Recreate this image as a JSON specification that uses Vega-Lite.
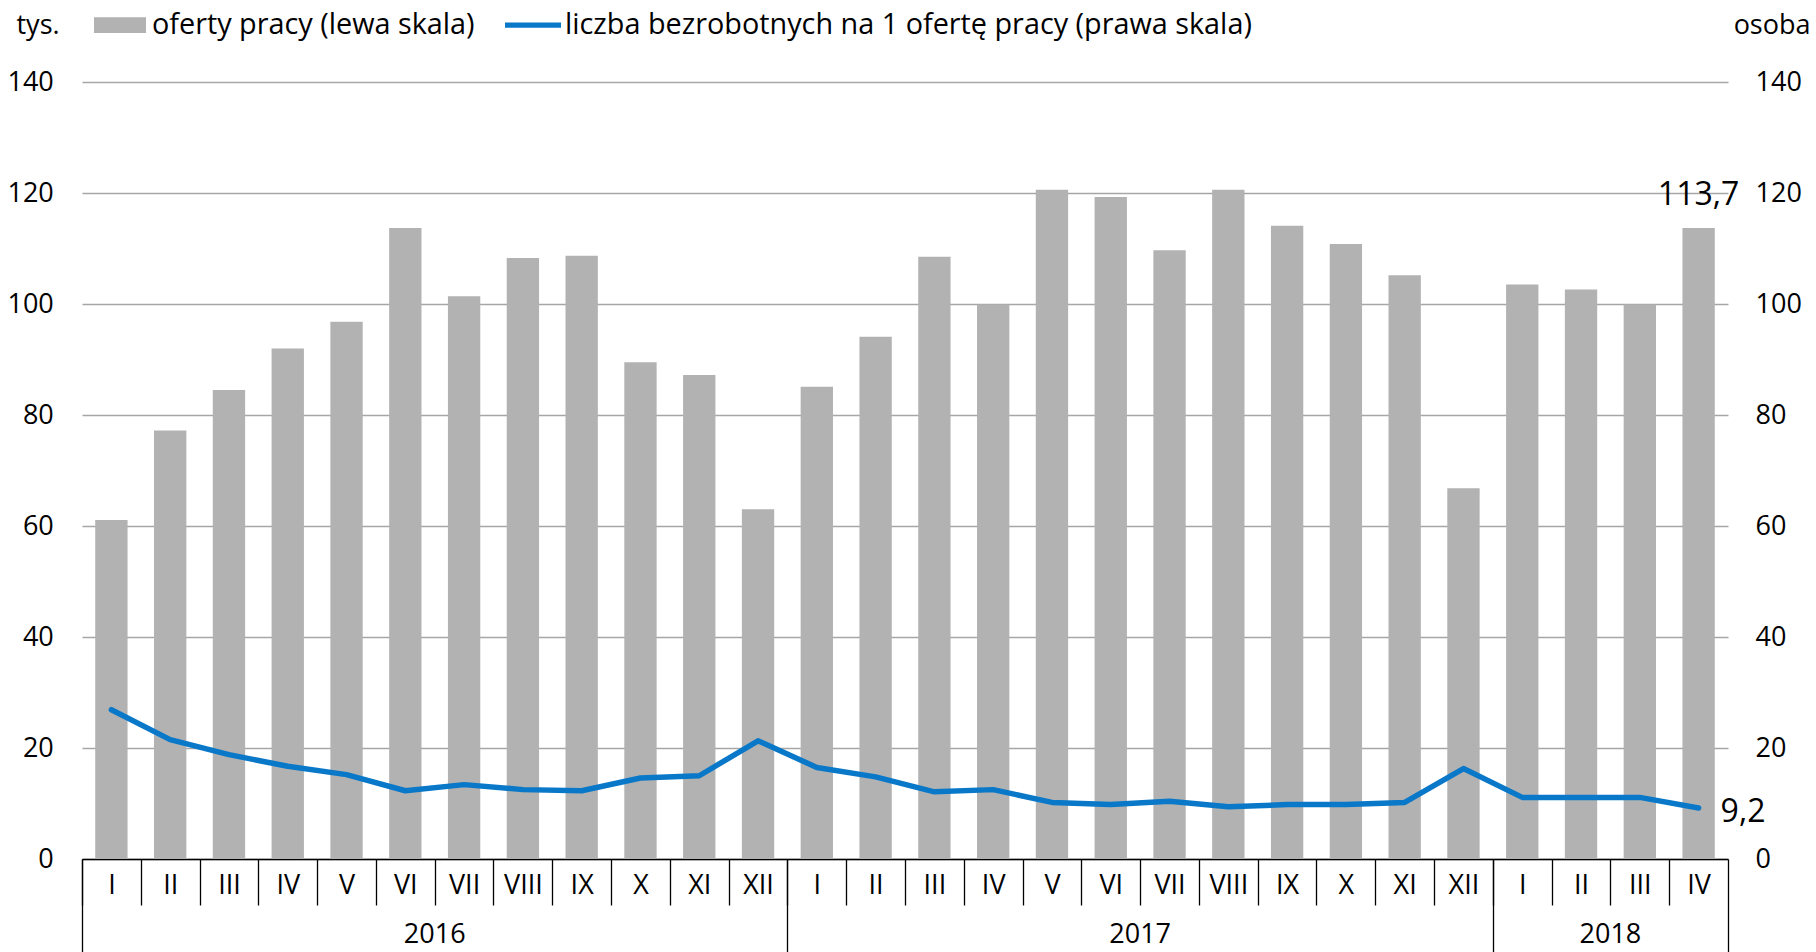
{
  "$schema": "https://vega.github.io/schema/vega-lite/v6.json",
  "width": 1646,
  "height": 777,
  "autosize": {"type": "none"},
  "padding": {"left": 82, "top": 82, "right": 88, "bottom": 93},
  "background": "#ffffff",
  "config": {
    "font": "Open Sans",
    "view": {"stroke": null},
    "axis": {"labelFont": "Open Sans", "titleFont": "Open Sans", "labelColor": "#000000", "titleColor": "#000000", "titleFontWeight": "normal", "labelFontSize": 27, "titleFontSize": 27},
    "locale": {"number": {"decimal": ",", "thousands": " ", "grouping": [3], "currency": ["", " zł"]}}
  },
  "data": {
    "values": [
      {"klucz": "2016-I", "oferty": 61.1, "bezrobotni": 26.9},
      {"klucz": "2016-II", "oferty": 77.2, "bezrobotni": 21.5},
      {"klucz": "2016-III", "oferty": 84.5, "bezrobotni": 18.8},
      {"klucz": "2016-IV", "oferty": 92.0, "bezrobotni": 16.7},
      {"klucz": "2016-V", "oferty": 96.8, "bezrobotni": 15.2},
      {"klucz": "2016-VI", "oferty": 113.7, "bezrobotni": 12.3},
      {"klucz": "2016-VII", "oferty": 101.4, "bezrobotni": 13.4},
      {"klucz": "2016-VIII", "oferty": 108.3, "bezrobotni": 12.5},
      {"klucz": "2016-IX", "oferty": 108.7, "bezrobotni": 12.3},
      {"klucz": "2016-X", "oferty": 89.5, "bezrobotni": 14.6},
      {"klucz": "2016-XI", "oferty": 87.2, "bezrobotni": 15.0},
      {"klucz": "2016-XII", "oferty": 63.0, "bezrobotni": 21.3},
      {"klucz": "2017-I", "oferty": 85.1, "bezrobotni": 16.5},
      {"klucz": "2017-II", "oferty": 94.1, "bezrobotni": 14.8},
      {"klucz": "2017-III", "oferty": 108.5, "bezrobotni": 12.1},
      {"klucz": "2017-IV", "oferty": 99.9, "bezrobotni": 12.5},
      {"klucz": "2017-V", "oferty": 120.6, "bezrobotni": 10.2},
      {"klucz": "2017-VI", "oferty": 119.3, "bezrobotni": 9.8},
      {"klucz": "2017-VII", "oferty": 109.7, "bezrobotni": 10.4},
      {"klucz": "2017-VIII", "oferty": 120.6, "bezrobotni": 9.4},
      {"klucz": "2017-IX", "oferty": 114.1, "bezrobotni": 9.8},
      {"klucz": "2017-X", "oferty": 110.8, "bezrobotni": 9.8},
      {"klucz": "2017-XI", "oferty": 105.2, "bezrobotni": 10.2},
      {"klucz": "2017-XII", "oferty": 66.8, "bezrobotni": 16.3},
      {"klucz": "2018-I", "oferty": 103.5, "bezrobotni": 11.1},
      {"klucz": "2018-II", "oferty": 102.6, "bezrobotni": 11.1},
      {"klucz": "2018-III", "oferty": 99.9, "bezrobotni": 11.1},
      {"klucz": "2018-IV", "oferty": 113.7, "bezrobotni": 9.2}
    ]
  },
  "layer": [
    {
      "mark": {"type": "bar"},
      "encoding": {
        "x": {
          "field": "klucz", "type": "nominal", "sort": null,
          "scale": {"type": "band", "paddingInner": 0.45, "paddingOuter": 0.225},
          "axis": {"orient": "bottom", "title": null, "labelExpr": "split(datum.value, '-')[1]", "tickOffset": -29.393, "labelOffset": 29.393, "tickSize": 46, "tickColor": "#000000", "tickWidth": 1.3, "domainColor": "#000000", "domainWidth": 1.3, "labelBaseline": "middle", "labelPadding": -19.5, "labelAngle": 0, "labelOverlap": false, "grid": false}
        },
        "y": {
          "field": "oferty", "type": "quantitative",
          "scale": {"domain": [0, 140], "nice": false},
          "axis": {"orient": "left", "values": [0, 20, 40, 60, 80, 100, 120, 140], "grid": true, "gridColor": "#a6a6a6", "gridWidth": 1.3, "domain": false, "ticks": false, "labelPadding": 28.7, "title": "tys.", "titleAngle": 0, "titleAlign": "left", "titleBaseline": "alphabetic", "titleX": -66, "titleY": -48.7}
        },
        "color": {
          "datum": "oferty pracy (lewa skala)", "type": "nominal",
          "scale": {"domain": ["oferty pracy (lewa skala)", "liczba bezrobotnych na 1 ofertę pracy (prawa skala)"], "range": ["#b2b2b2", "#0a78c8"]},
          "legend": {
            "orient": "none", "legendX": 11, "legendY": -84, "direction": "horizontal", "title": null,
            "symbolSize": 2916, "labelFontSize": 28.8, "labelFont": "Open Sans", "labelColor": "#000000", "labelOffset": 5, "columnPadding": 30, "padding": 0, "labelLimit": 2000,
            "encode": {"symbols": {"update": {"shape": {"signal": "datum.value === 'oferty pracy (lewa skala)' ? 'M-0.963,-0.29H0.963V0.29H-0.963Z' : 'M-1.037,-0.1H1.037V0.1H-1.037Z'"}, "strokeWidth": {"value": 0}}}}
          }
        }
      }
    },
    {
      "mark": {"type": "line", "color": "#0a78c8", "strokeWidth": 5.5, "strokeCap": "round", "strokeJoin": "round"},
      "encoding": {
        "x": {
          "field": "klucz", "type": "nominal", "sort": null,
          "scale": {"type": "band", "paddingInner": 0.45, "paddingOuter": 0.225},
          "axis": {"orient": "bottom", "title": null, "values": ["2018-IV"], "tickOffset": 29.393, "tickSize": 93, "tickColor": "#000000", "tickWidth": 1.3, "labels": false, "domain": false, "grid": false}
        },
        "y": {
          "field": "bezrobotni", "type": "quantitative",
          "scale": {"domain": [0, 140], "nice": false},
          "axis": {"orient": "right", "values": [0, 20, 40, 60, 80, 100, 120, 140], "grid": false, "domain": false, "ticks": false, "labelPadding": 27, "title": "osoba", "titleAngle": 0, "titleAlign": "right", "titleBaseline": "alphabetic", "titleX": 82, "titleY": -48.7}
        }
      }
    },
    {
      "mark": {"type": "text", "fontSize": 32, "dy": -23, "baseline": "alphabetic", "align": "center", "color": "#000000", "font": "Open Sans"},
      "encoding": {
        "x": {
          "field": "klucz", "type": "nominal", "sort": null,
          "scale": {"type": "band", "paddingInner": 0.45, "paddingOuter": 0.225},
          "axis": {"orient": "bottom", "title": null, "values": ["2016-VI", "2017-VI", "2018-II"], "labelExpr": "split(datum.value, '-')[0]", "labelOffset": 29.393, "ticks": false, "domain": false, "grid": false, "labelPadding": 75, "labelBaseline": "middle", "labelAngle": 0, "labelOverlap": false}
        },
        "y": {"field": "oferty", "type": "quantitative", "scale": {"domain": [0, 140], "nice": false}, "axis": null},
        "text": {"condition": {"test": "datum.klucz === '2018-IV'", "field": "oferty", "type": "quantitative", "format": ".1f"}, "value": ""}
      }
    },
    {
      "mark": {"type": "text", "fontSize": 32, "dx": 22, "dy": 14, "baseline": "alphabetic", "align": "left", "color": "#000000", "font": "Open Sans"},
      "encoding": {
        "x": {
          "field": "klucz", "type": "nominal", "sort": null,
          "scale": {"type": "band", "paddingInner": 0.45, "paddingOuter": 0.225},
          "axis": {"orient": "bottom", "title": null, "values": ["2016-I", "2017-I", "2018-I"], "tickOffset": -29.393, "tickSize": 93, "tickColor": "#000000", "tickWidth": 1.3, "labels": false, "domain": false, "grid": false}
        },
        "y": {"field": "bezrobotni", "type": "quantitative", "scale": {"domain": [0, 140], "nice": false}, "axis": null},
        "text": {"condition": {"test": "datum.klucz === '2018-IV'", "field": "bezrobotni", "type": "quantitative", "format": ".1f"}, "value": ""}
      }
    }
  ],
  "resolve": {"scale": {"x": "independent", "y": "independent"}}
}
